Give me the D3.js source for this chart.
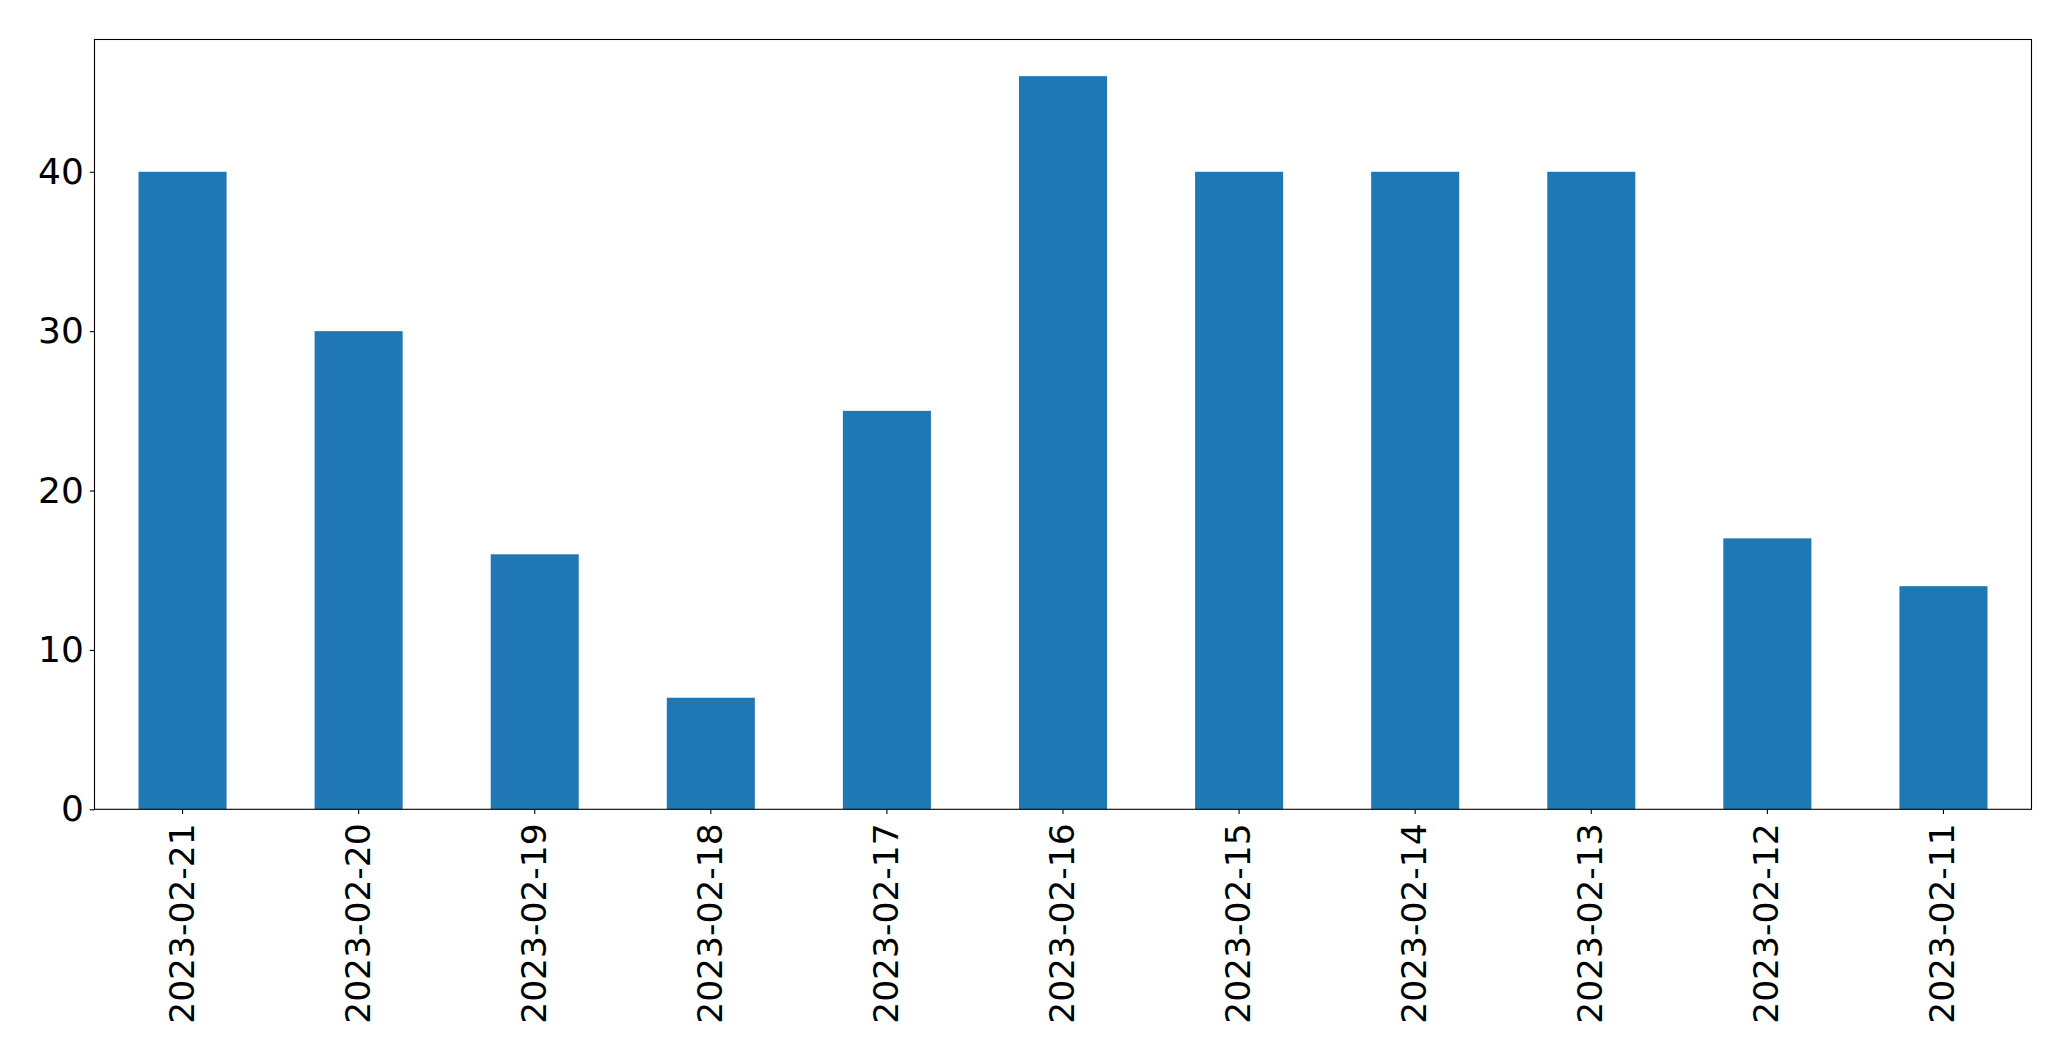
<!DOCTYPE html>
<html><head><meta charset="utf-8">
<script src="https://cdn.jsdelivr.net/npm/d3@7"></script>
<style>body{margin:0;background:#fff;} svg{display:block;}</style>
</head><body>
<svg id="chart" width="2071" height="1061"></svg>
<script>
const categories = ["2023-02-21","2023-02-20","2023-02-19","2023-02-18","2023-02-17","2023-02-16","2023-02-15","2023-02-14","2023-02-13","2023-02-12","2023-02-11"];
const values = [40, 30, 16, 7, 25, 46, 40, 40, 40, 17, 14];
const yTicks = [0, 10, 20, 30, 40];

const W = 2071, H = 1061;
const m = {left: 94.5, right: 2031.5, top: 39.5, bottom: 809.3};
const svg = d3.select("#chart");
const font = "DejaVu Sans, sans-serif";
const fs = 34.5;

const x = d3.scaleBand().domain(categories).range([m.left, m.right]).paddingInner(0.5).paddingOuter(0.25);
const y = d3.scaleLinear().domain([0, d3.max(values) * 1.05]).range([m.bottom, m.top]);

svg.append("g").selectAll("rect").data(values).join("rect")
  .attr("x", (d, i) => x(categories[i]))
  .attr("width", x.bandwidth())
  .attr("y", d => y(d))
  .attr("height", d => y(0) - y(d))
  .attr("fill", "#1f77b4");

const yAxis = d3.axisLeft(y).tickValues(yTicks).tickSize(4.7).tickPadding(6).tickFormat(d3.format("d"));
const gy = svg.append("g").attr("transform", `translate(${m.left},0)`).call(yAxis);
gy.select(".domain").remove();
gy.selectAll("line").attr("stroke", "#000").attr("stroke-width", 1.1);
gy.selectAll("text").attr("font-family", font).attr("font-size", 36).attr("fill", "#000");

const xAxis = d3.axisBottom(x).tickSize(4.7).tickPadding(0);
const gx = svg.append("g").attr("transform", `translate(0,${m.bottom})`).call(xAxis);
gx.select(".domain").remove();
gx.selectAll("line").attr("stroke", "#000").attr("stroke-width", 1.1);
gx.selectAll("text")
  .attr("font-family", font).attr("font-size", fs).attr("fill", "#000")
  .attr("text-anchor", "end")
  .attr("dy", null)
  .attr("dominant-baseline", "central")
  .attr("transform", "translate(-1,14) rotate(-90)")
  .attr("x", 0).attr("y", 0);

svg.append("rect")
  .attr("x", m.left).attr("y", m.top)
  .attr("width", m.right - m.left).attr("height", m.bottom - m.top)
  .attr("fill", "none").attr("stroke", "#000").attr("stroke-width", 1.1);
</script>
</body></html>
